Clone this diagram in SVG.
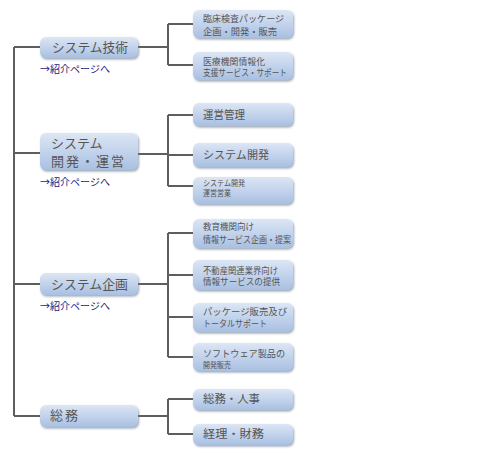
<svg xmlns="http://www.w3.org/2000/svg" width="480" height="460" viewBox="0 0 480 460">
  <defs>
    <linearGradient id="boxGrad" x1="0" y1="0" x2="0" y2="1">
      <stop offset="0" stop-color="#dce6f5"/>
      <stop offset="1" stop-color="#a9c0e2"/>
    </linearGradient>
    <filter id="shadow" x="-10%" y="-20%" width="120%" height="160%">
      <feDropShadow dx="1" dy="1.5" stdDeviation="1" flood-color="#6f7f98" flood-opacity="0.7"/>
    </filter>
  </defs>
  <style>
    .box { fill: url(#boxGrad); filter: url(#shadow); }
    .conn { fill: none; stroke: #5e5e5e; stroke-width: 2; }
    text { font-family: "Noto Sans CJK JP", "Noto Sans", sans-serif; fill: #555555; }
    .main { font-size: 13px; }
    .sub9 { font-size: 9px; }
    .sub10 { font-size: 9.5px; }
    .sub8 { font-size: 8px; }
    .sub11 { font-size: 11px; }
    .link { font-size: 10px; fill: #23237e; }
  </style>
  <rect width="480" height="460" fill="#ffffff"/>

  <g id="connectors">
    <path class="conn" d="M14,47 V416 M14,47 H40 M14,153 H40 M14,284 H40 M14,416 H40"/>
    <path class="conn" d="M138,47 H168 M168,24 V65 M168,24 H193 M168,65 H193"/>
    <path class="conn" d="M138,154 H168 M168,115 V186 M168,115 H193 M168,155 H193 M168,186 H193"/>
    <path class="conn" d="M138,284 H168 M168,233 V357 M168,233 H193 M168,275 H193 M168,317 H193 M168,357 H193"/>
    <path class="conn" d="M138,416 H168 M168,399 V434 M168,399 H193 M168,434 H193"/>
  </g>

  <g id="node-tech">
    <rect class="box" x="40" y="37" width="98" height="21" rx="6"/>
    <text class="main" x="52" y="52" textLength="76" lengthAdjust="spacingAndGlyphs">システム技術</text>
  </g>
  <text id="link-tech" class="link" x="40" y="73" textLength="70" lengthAdjust="spacingAndGlyphs">→紹介ページへ</text>

  <g id="node-dev">
    <rect class="box" x="40" y="133" width="98" height="37" rx="6"/>
    <text class="main" x="51" y="147.5">システム</text>
    <text class="main" x="51" y="165.5" textLength="73" lengthAdjust="spacing">開発・運営</text>
  </g>
  <text id="link-dev" class="link" x="40" y="186" textLength="70" lengthAdjust="spacingAndGlyphs">→紹介ページへ</text>

  <g id="node-plan">
    <rect class="box" x="40" y="273" width="98" height="22" rx="6"/>
    <text class="main" x="51" y="289" textLength="77" lengthAdjust="spacingAndGlyphs">システム企画</text>
  </g>
  <text id="link-plan" class="link" x="40" y="310" textLength="70" lengthAdjust="spacingAndGlyphs">→紹介ページへ</text>

  <g id="node-general">
    <rect class="box" x="40" y="405" width="98" height="22" rx="6"/>
    <text class="main" x="50" y="420" textLength="28" lengthAdjust="spacing">総務</text>
  </g>

  <g id="node-r1">
    <rect class="box" x="193" y="10" width="100" height="28" rx="6"/>
    <text class="sub9" x="203" y="21.5" textLength="81" lengthAdjust="spacingAndGlyphs">臨床検査パッケージ</text>
    <text class="sub9" x="203" y="34.5" textLength="74" lengthAdjust="spacingAndGlyphs">企画・開発・販売</text>
  </g>
  <g id="node-r2">
    <rect class="box" x="193" y="52" width="100" height="28" rx="6"/>
    <text class="sub9" x="203" y="64.5" textLength="62" lengthAdjust="spacingAndGlyphs">医療機関情報化</text>
    <text class="sub9" x="203" y="76" textLength="84" lengthAdjust="spacingAndGlyphs">支援サービス・サポート</text>
  </g>
  <g id="node-r3">
    <rect class="box" x="193" y="103" width="100" height="23" rx="6"/>
    <text class="sub11" x="203" y="119" textLength="42" lengthAdjust="spacingAndGlyphs">運営管理</text>
  </g>
  <g id="node-r4">
    <rect class="box" x="193" y="143" width="100" height="24" rx="6"/>
    <text class="sub11" x="203" y="159" textLength="66" lengthAdjust="spacingAndGlyphs">システム開発</text>
  </g>
  <g id="node-r5">
    <rect class="box" x="193" y="177" width="100" height="27" rx="6"/>
    <text class="sub8" x="203" y="185.5" textLength="42" lengthAdjust="spacingAndGlyphs">システム開発</text>
    <text class="sub8" x="203" y="195.5" textLength="28" lengthAdjust="spacingAndGlyphs">運営営業</text>
  </g>
  <g id="node-r6">
    <rect class="box" x="193" y="219" width="100" height="29" rx="6"/>
    <text class="sub9" x="203" y="230" textLength="51" lengthAdjust="spacingAndGlyphs">教育機関向け</text>
    <text class="sub9" x="203" y="242.5" textLength="88" lengthAdjust="spacingAndGlyphs">情報サービス企画・提案</text>
  </g>
  <g id="node-r7">
    <rect class="box" x="193" y="260" width="100" height="30" rx="6"/>
    <text class="sub9" x="203" y="273.5" textLength="75" lengthAdjust="spacingAndGlyphs">不動産関連業界向け</text>
    <text class="sub9" x="203" y="285" textLength="77" lengthAdjust="spacingAndGlyphs">情報サービスの提供</text>
  </g>
  <g id="node-r8">
    <rect class="box" x="193" y="303" width="100" height="29" rx="6"/>
    <text class="sub9" x="203" y="314.5" textLength="84" lengthAdjust="spacingAndGlyphs">パッケージ販売及び</text>
    <text class="sub9" x="203" y="326.5" textLength="64" lengthAdjust="spacingAndGlyphs">トータルサポート</text>
  </g>
  <g id="node-r9">
    <rect class="box" x="193" y="343" width="100" height="28" rx="6"/>
    <text class="sub10" x="203" y="356.5" textLength="82" lengthAdjust="spacingAndGlyphs">ソフトウェア製品の</text>
    <text class="sub8" x="203" y="367.5" textLength="28" lengthAdjust="spacingAndGlyphs">開発販売</text>
  </g>
  <g id="node-r10">
    <rect class="box" x="193" y="389" width="100" height="21" rx="6"/>
    <text class="sub11" x="203" y="403" textLength="57" lengthAdjust="spacingAndGlyphs">総務・人事</text>
  </g>
  <g id="node-r11">
    <rect class="box" x="193" y="424" width="100" height="21" rx="6"/>
    <text class="sub11" x="203" y="438" textLength="61" lengthAdjust="spacingAndGlyphs">経理・財務</text>
  </g>
</svg>
